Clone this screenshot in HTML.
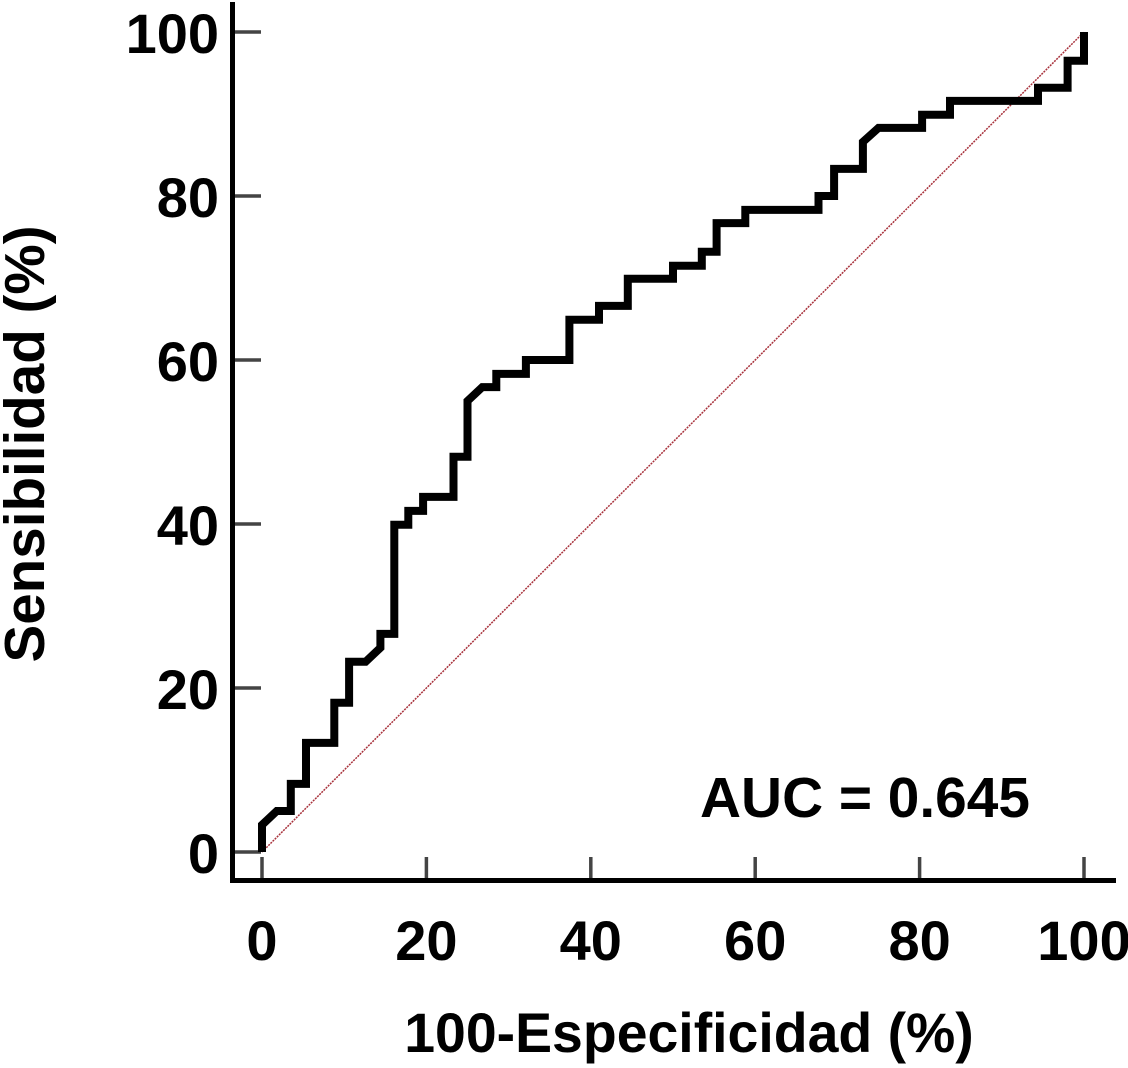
<!DOCTYPE html>
<html lang="es">
<head>
<meta charset="utf-8">
<title>Curva ROC</title>
<style>
html,body{margin:0;padding:0;background:#fff;}
svg{display:block;}
text{font-family:"Liberation Sans",Arial,sans-serif;font-weight:bold;fill:#000;}
.tick-label{font-size:56px;}
</style>
</head>
<body>
<svg id="chart" width="1128" height="1068" viewBox="0 0 1128 1068" xmlns="http://www.w3.org/2000/svg">
<g id="ticks"></g>
<line id="diag" stroke="#a8323c" stroke-width="1.5" stroke-dasharray="2 1"></line>
<path id="roc" fill="none" stroke="#000" stroke-width="8" stroke-linejoin="miter" stroke-miterlimit="4"></path>
<line x1="232.5" y1="2" x2="232.5" y2="883" stroke="#000" stroke-width="5"></line>
<line x1="230" y1="880.5" x2="1116" y2="880.5" stroke="#000" stroke-width="5"></line>
<g id="labels"></g>
<text x="689" y="1052" text-anchor="middle" style="font-size:55.4px">100-Especificidad (%)</text>
<text transform="translate(44,444) rotate(-90)" text-anchor="middle" style="font-size:56.6px">Sensibilidad (%)</text>
<text class="tick-label" x="865" y="817" text-anchor="middle" style="font-size:56.8px">AUC = 0.645</text>
</svg>
<script>
const fpr = [0,0,1.8,3.5,3.5,5.35,5.35,8.8,8.8,10.6,10.6,12.6,14.4,14.4,16.1,16.1,17.8,17.8,19.6,19.6,23.3,23.3,25,25,26.8,28.5,28.5,32.1,32.1,37.4,37.4,41,41,44.5,44.5,50,50,53.5,53.5,55.3,55.3,58.8,58.8,67.7,67.7,69.6,69.6,73.1,73.1,75,80.3,80.3,83.7,83.7,94.4,94.4,98,98,100,100];
const tpr = [0,3.3,5,5,8.3,8.3,13.3,13.3,18.2,18.2,23.2,23.2,24.9,26.6,26.6,39.9,39.9,41.6,41.6,43.3,43.3,48.2,48.2,55,56.7,56.7,58.3,58.3,60,60,64.9,64.9,66.6,66.6,69.9,69.9,71.5,71.5,73.2,73.2,76.7,76.7,78.3,78.3,80,80,83.3,83.3,86.6,88.3,88.3,89.9,89.9,91.6,91.6,93.2,93.2,96.5,96.5,100];
const xTickValues = [0,20,40,60,80,100];
const yTickValues = [0,20,40,60,80,100];
const diagonalValues = [0,100];

const NS = 'http://www.w3.org/2000/svg';
function xScale(v){ return 262 + v * 8.22; }
function yScale(v){ return 852 - v * 8.2; }

document.getElementById('roc').setAttribute('d',
  fpr.map(function(v,i){ return (i ? 'L' : 'M') + xScale(v).toFixed(1) + ' ' + yScale(tpr[i]).toFixed(1); }).join(' '));

const diag = document.getElementById('diag');
diag.setAttribute('x1', xScale(diagonalValues[0]));
diag.setAttribute('y1', yScale(diagonalValues[0]));
diag.setAttribute('x2', xScale(diagonalValues[1]));
diag.setAttribute('y2', yScale(diagonalValues[1]));

const ticks = document.getElementById('ticks');
const labels = document.getElementById('labels');
xTickValues.forEach(function(v){
  const t = document.createElementNS(NS,'line');
  
  
  t.setAttribute('x1', xScale(v)); t.setAttribute('x2', xScale(v));
  t.setAttribute('y1', 857); t.setAttribute('y2', 879);
  t.setAttribute('stroke', '#444'); t.setAttribute('stroke-width', 3.5);
  ticks.appendChild(t);
  const l = document.createElementNS(NS,'text');
  
  
  l.setAttribute('class', 'tick-label');
  l.setAttribute('x', xScale(v)); l.setAttribute('y', 960);
  l.setAttribute('text-anchor', 'middle');
  l.textContent = v;
  labels.appendChild(l);
});
yTickValues.forEach(function(v){
  const t = document.createElementNS(NS,'line');
  
  
  t.setAttribute('x1', 234); t.setAttribute('x2', 261);
  t.setAttribute('y1', yScale(v)); t.setAttribute('y2', yScale(v));
  t.setAttribute('stroke', '#444'); t.setAttribute('stroke-width', 3.5);
  ticks.appendChild(t);
  const l = document.createElementNS(NS,'text');
  
  
  l.setAttribute('class', 'tick-label');
  l.setAttribute('x', 219); l.setAttribute('y', yScale(v) + 21);
  l.setAttribute('text-anchor', 'end');
  l.textContent = v;
  labels.appendChild(l);
});
</script>
</body>
</html>
